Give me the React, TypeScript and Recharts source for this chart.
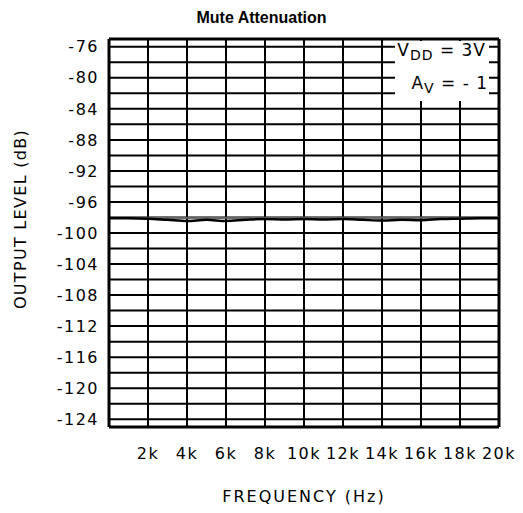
import { CartesianGrid, Line, LineChart, ReferenceLine, XAxis, YAxis } from "recharts";

const freqHz = [20, 1000, 2000, 3000, 4000, 5000, 6000, 7000, 8000, 9000, 10000, 11000, 12000, 13000, 14000, 15000, 16000, 17000, 18000, 19000, 20000];
const levelFlat = [-98.0, -98.0, -98.05, -98.0, -98.05, -98.0, -98.05, -98.0, -98.05, -98.0, -98.0, -98.05, -98.0, -98.05, -98.0, -98.05, -98.0, -98.0, -98.05, -98.0, -98.0];
const levelWavy = [-98.1, -98.1, -98.15, -98.3, -98.45, -98.3, -98.45, -98.3, -98.2, -98.25, -98.2, -98.25, -98.2, -98.3, -98.4, -98.3, -98.35, -98.2, -98.15, -98.1, -98.1];

const xTicks = [2000, 4000, 6000, 8000, 10000, 12000, 14000, 16000, 18000, 20000];
const yTicks = [-76, -78, -80, -82, -84, -86, -88, -90, -92, -94, -96, -98, -100, -102, -104, -106, -108, -110, -112, -114, -116, -118, -120, -122, -124];

const AXIS_FONT = "'DejaVu Sans', sans-serif";

const data = freqHz.map((f, i) => ({ f, flat: levelFlat[i], wavy: levelWavy[i] }));

export default function App() {
  return (
    <div style={{ position: "absolute", left: 0, top: 0, width: 523, height: 513, background: "#fff" }}>
      <div
        style={{
          position: "absolute",
          left: 0,
          top: 9,
          width: 523,
          textAlign: "center",
          fontFamily: "'Liberation Sans', Arial, sans-serif",
          fontWeight: "bold",
          fontSize: 16,
          color: "#000",
        }}
      >
        Mute Attenuation
      </div>
      <LineChart width={523} height={513} data={data} margin={{ top: 39, right: 24, bottom: 46, left: 49 }}>
        <CartesianGrid stroke="#000" strokeWidth={2} />
        <XAxis
          dataKey="f"
          type="number"
          domain={[0, 20000]}
          ticks={xTicks}
          tickFormatter={(v: number) => `${v / 1000}k`}
          height={40}
          tickSize={0}
          tickMargin={21}
          axisLine={{ stroke: "#000", strokeWidth: 3 }}
          tick={{ fill: "#000", fontSize: 16, fontFamily: AXIS_FONT, letterSpacing: 1.5 }}
        />
        <YAxis
          type="number"
          domain={[-125, -75]}
          ticks={yTicks}
          tickFormatter={(v: number) => (v % 4 === 0 ? String(v) : "")}
          width={60}
          tickSize={0}
          tickMargin={10}
          axisLine={{ stroke: "#000", strokeWidth: 3 }}
          tick={{ fill: "#000", fontSize: 16, fontFamily: AXIS_FONT, letterSpacing: 1.5 }}
        />
        <ReferenceLine y={-75} stroke="#000" strokeWidth={3} />
        <ReferenceLine x={20000} stroke="#000" strokeWidth={3} />
        <Line dataKey="flat" type="monotone" stroke="#666" strokeWidth={2} dot={false} isAnimationActive={false} />
        <Line dataKey="wavy" type="monotone" stroke="#000" strokeWidth={2.5} dot={false} isAnimationActive={false} />
      </LineChart>
      <div
        style={{
          position: "absolute",
          left: 395,
          top: 41,
          width: 94,
          height: 60,
          background: "#fff",
          fontFamily: AXIS_FONT,
          fontSize: 17,
          color: "#000",
          letterSpacing: 1,
        }}
      >
        <div style={{ position: "absolute", right: 3, top: -1, whiteSpace: "nowrap" }}>
          V<sub style={{ fontSize: 14 }}>DD</sub> = 3V
        </div>
        <div style={{ position: "absolute", right: 1, top: 32, whiteSpace: "nowrap" }}>
          A<sub style={{ fontSize: 14 }}>V</sub> = - 1
        </div>
      </div>
      <div
        style={{
          position: "absolute",
          left: 20,
          top: 219,
          transform: "translate(-50%, -50%) rotate(-90deg)",
          whiteSpace: "nowrap",
          fontFamily: AXIS_FONT,
          fontSize: 16,
          letterSpacing: 1.3,
          color: "#000",
        }}
      >
        OUTPUT LEVEL (dB)
      </div>
      <div
        style={{
          position: "absolute",
          left: 0,
          top: 487,
          width: 608,
          textAlign: "center",
          fontFamily: AXIS_FONT,
          fontSize: 16,
          letterSpacing: 2,
          color: "#000",
        }}
      >
        FREQUENCY (Hz)
      </div>
    </div>
  );
}
